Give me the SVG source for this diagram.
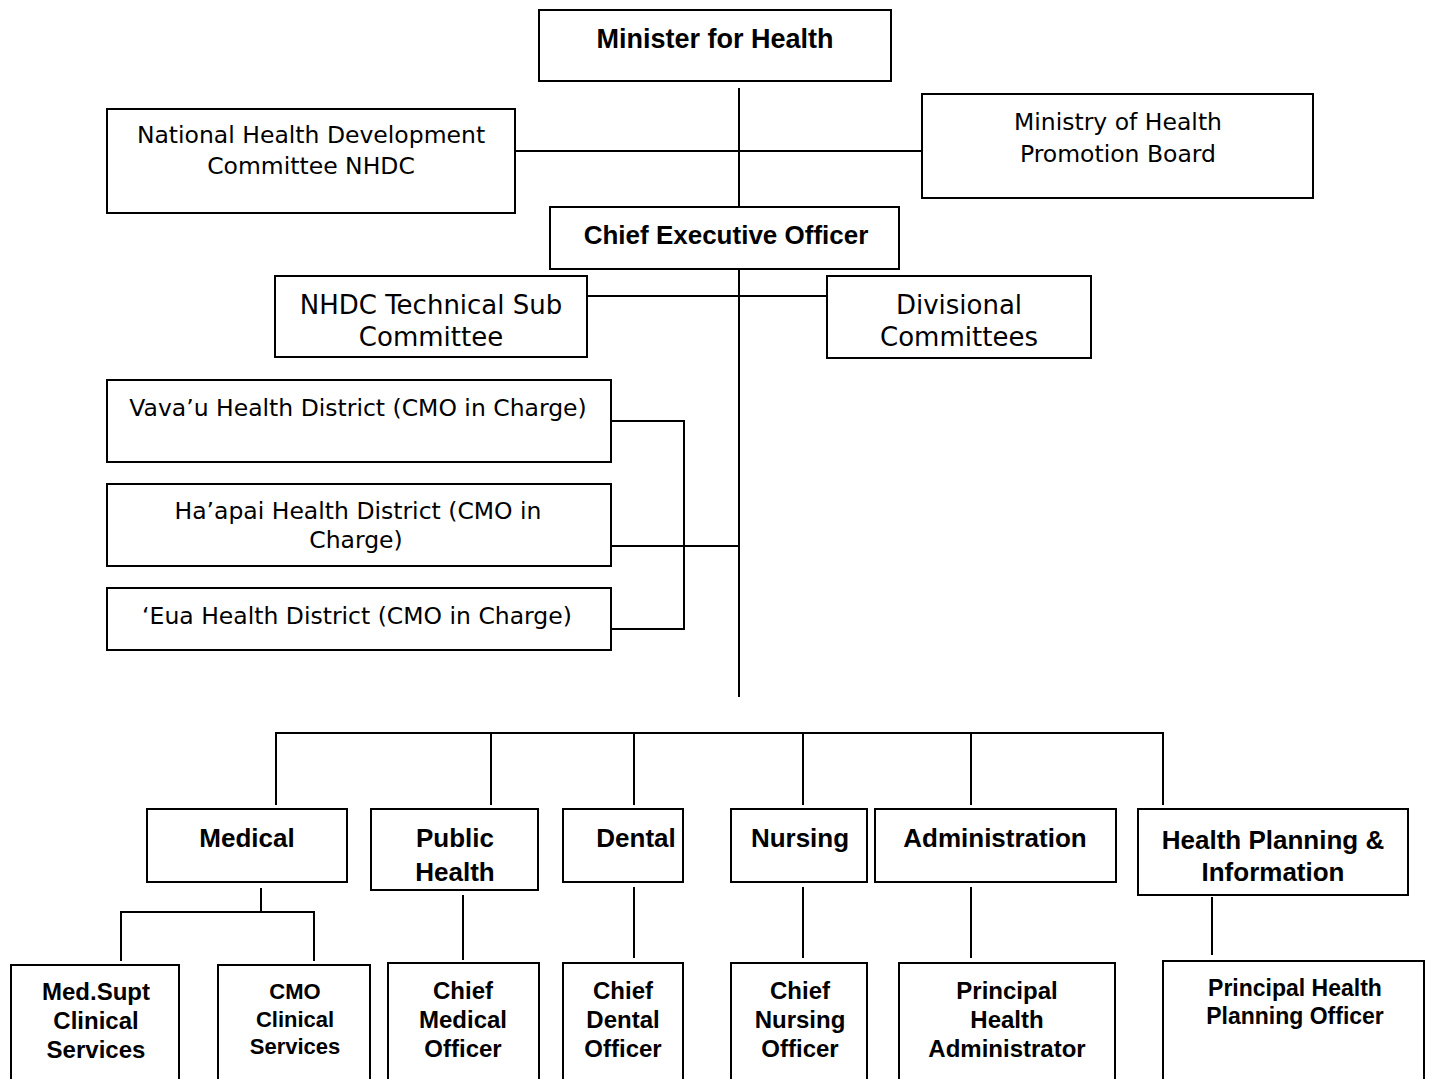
<svg xmlns="http://www.w3.org/2000/svg" width="1432" height="1079" viewBox="0 0 1432 1079">
<style>
.box{fill:#fff;stroke:#000;stroke-width:2}
.ln{fill:none;stroke:#000;stroke-width:2}
.r{font-family:"DejaVu Sans","Liberation Sans",sans-serif;font-size:23.5px;fill:#000;text-anchor:middle}
.r26{font-family:"DejaVu Sans","Liberation Sans",sans-serif;font-size:26px;fill:#000;text-anchor:middle}
.b{font-family:"Liberation Sans",Arial,sans-serif;font-weight:bold;fill:#000;text-anchor:middle}
</style>
<rect width="1432" height="1079" fill="#fff"/>
<g id="connectors">
<path class="ln" d="M739 88V207M515 151H922M739 265V697M587 296H827"/>
<path class="ln" d="M611 421H684V629H611M611 546H739"/>
<path class="ln" d="M276 805V733H1163V805M491 733V805M634 733V805M803 733V805M971 733V805"/>
<path class="ln" d="M261 888V912M121 961V912H314V961"/>
<path class="ln" d="M463 895V960M634 887V958M803 887V958M971 887V958M1212 897V955"/>
</g>
<g id="minister"><rect class="box" x="539" y="10" width="352" height="71"/><text class="b" font-size="27" x="715" y="48">Minister for Health</text></g>
<g id="nhdc"><rect class="box" x="107" y="109" width="408" height="104"/><text class="r" x="311" y="143">National Health Development</text><text class="r" x="311" y="174">Committee NHDC</text></g>
<g id="promotion"><rect class="box" x="922" y="94" width="391" height="104"/><text class="r" x="1118" y="130">Ministry of Health</text><text class="r" x="1118" y="162">Promotion Board</text></g>
<g id="ceo"><rect class="box" x="550" y="207" width="349" height="62"/><text class="b" font-size="26" x="726" y="244">Chief Executive Officer</text></g>
<g id="nhdc-tech"><rect class="box" x="275" y="276" width="312" height="81"/><text class="r26" x="431" y="314">NHDC Technical Sub</text><text class="r26" x="431" y="346">Committee</text></g>
<g id="divisional"><rect class="box" x="827" y="276" width="264" height="82"/><text class="r26" x="959" y="314">Divisional</text><text class="r26" x="959" y="346">Committees</text></g>
<g id="vavau"><rect class="box" x="107" y="380" width="504" height="82"/><text class="r" x="358" y="416">Vava’u Health District (CMO in Charge)</text></g>
<g id="haapai"><rect class="box" x="107" y="484" width="504" height="82"/><text class="r" x="358" y="519">Ha’apai Health District (CMO in</text><text class="r" x="356" y="548">Charge)</text></g>
<g id="eua"><rect class="box" x="107" y="588" width="504" height="62"/><text class="r" x="357" y="624">‘Eua Health District (CMO in Charge)</text></g>
<g id="medical"><rect class="box" x="147" y="809" width="200" height="73"/><text class="b" font-size="26" x="247" y="847">Medical</text></g>
<g id="public-health"><rect class="box" x="371" y="809" width="167" height="81"/><text class="b" font-size="26" x="455" y="847">Public</text><text class="b" font-size="26" x="455" y="881">Health</text></g>
<g id="dental"><rect class="box" x="563" y="809" width="120" height="73"/><text class="b" font-size="26" x="636" y="847">Dental</text></g>
<g id="nursing"><rect class="box" x="731" y="809" width="136" height="73"/><text class="b" font-size="26" x="800" y="847">Nursing</text></g>
<g id="administration"><rect class="box" x="875" y="809" width="241" height="73"/><text class="b" font-size="26" x="995" y="847">Administration</text></g>
<g id="health-planning"><rect class="box" x="1138" y="809" width="270" height="86"/><text class="b" font-size="26" x="1273" y="849">Health Planning &amp;</text><text class="b" font-size="26" x="1273" y="881">Information</text></g>
<g id="med-supt"><rect class="box" x="11" y="965" width="168" height="130"/><text class="b" font-size="24" x="96" y="1000">Med.Supt</text><text class="b" font-size="24" x="96" y="1029">Clinical</text><text class="b" font-size="24" x="96" y="1058">Services</text></g>
<g id="cmo-clinical"><rect class="box" x="218" y="965" width="152" height="130"/><text class="b" font-size="22" x="295" y="999">CMO</text><text class="b" font-size="22" x="295" y="1027">Clinical</text><text class="b" font-size="22" x="295" y="1054">Services</text></g>
<g id="cmo"><rect class="box" x="388" y="963" width="151" height="130"/><text class="b" font-size="24" x="463" y="999">Chief</text><text class="b" font-size="24" x="463" y="1028">Medical</text><text class="b" font-size="24" x="463" y="1057">Officer</text></g>
<g id="cdo"><rect class="box" x="563" y="963" width="120" height="130"/><text class="b" font-size="24" x="623" y="999">Chief</text><text class="b" font-size="24" x="623" y="1028">Dental</text><text class="b" font-size="24" x="623" y="1057">Officer</text></g>
<g id="cno"><rect class="box" x="731" y="963" width="136" height="130"/><text class="b" font-size="24" x="800" y="999">Chief</text><text class="b" font-size="24" x="800" y="1028">Nursing</text><text class="b" font-size="24" x="800" y="1057">Officer</text></g>
<g id="pha"><rect class="box" x="899" y="963" width="216" height="130"/><text class="b" font-size="24" x="1007" y="999">Principal</text><text class="b" font-size="24" x="1007" y="1028">Health</text><text class="b" font-size="24" x="1007" y="1057">Administrator</text></g>
<g id="phpo"><rect class="box" x="1163" y="961" width="261" height="130"/><text class="b" font-size="23" x="1295" y="996">Principal Health</text><text class="b" font-size="23" x="1295" y="1024">Planning Officer</text></g>
</svg>
